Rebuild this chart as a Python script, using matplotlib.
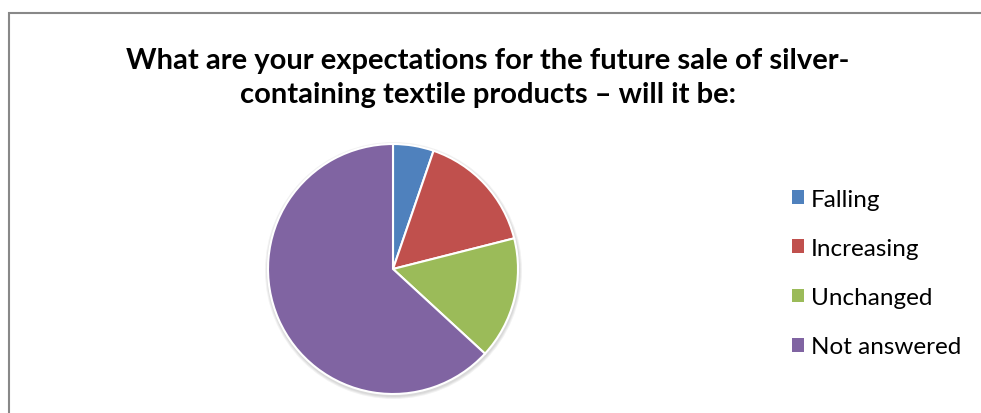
import matplotlib
matplotlib.use("Agg")
import matplotlib.pyplot as plt
from matplotlib.patches import Rectangle, Circle

# survey answers (number of respondents)
labels = ["Falling", "Increasing", "Unchanged", "Not answered"]
counts = [1, 3, 3, 12]
colors = ["#4f81bd", "#c0504d", "#9bbb59", "#8064a2"]

title = ("What are your expectations for the future sale of silver-\n"
         "containing textile products \u2013 will it be:")

plt.rcParams["font.family"] = ["Lato", "DejaVu Sans"]

fig = plt.figure(figsize=(9.81, 4.14), dpi=100)
ax = fig.add_axes([0, 0, 1, 1])
ax.set_xlim(0, 981)
ax.set_ylim(0, 414)
ax.set_aspect("equal")
ax.axis("off")

# chart frame
ax.add_patch(Rectangle((8.5, -10), 990, 410.5, fill=False,
                       edgecolor="#888888", linewidth=1.5))

cx, cy, r = 393, 144, 125

# soft shadow under the pie
for i, a in enumerate([0.05, 0.05, 0.05]):
    ax.add_patch(Circle((cx + 0.5, cy - 1.5), r + 1.5 + i, color="black",
                        alpha=a, linewidth=0, zorder=1))

wedges, _ = ax.pie(counts, colors=colors, startangle=90, counterclock=False,
                   center=(cx, cy), radius=r, frame=True,
                   wedgeprops=dict(edgecolor="white", linewidth=1.5, zorder=2))
ax.set_xlim(0, 981)
ax.set_ylim(0, 414)
ax.axis("off")

fig.text(0.497, 1 - 78 / 414, title, ha="center", va="center", fontsize=21,
         fontweight="bold", linespacing=1.38)

leg = ax.legend(wedges, labels, loc="upper left",
                bbox_to_anchor=(782 / 981, 1 - 180 / 414), frameon=False,
                fontsize=17.5, handlelength=0.5, handleheight=0.5,
                handletextpad=0.3, labelspacing=1.16, borderaxespad=0)
for h in leg.legend_handles:
    h.set_edgecolor("none")

fig.savefig("out.png", dpi=100)
